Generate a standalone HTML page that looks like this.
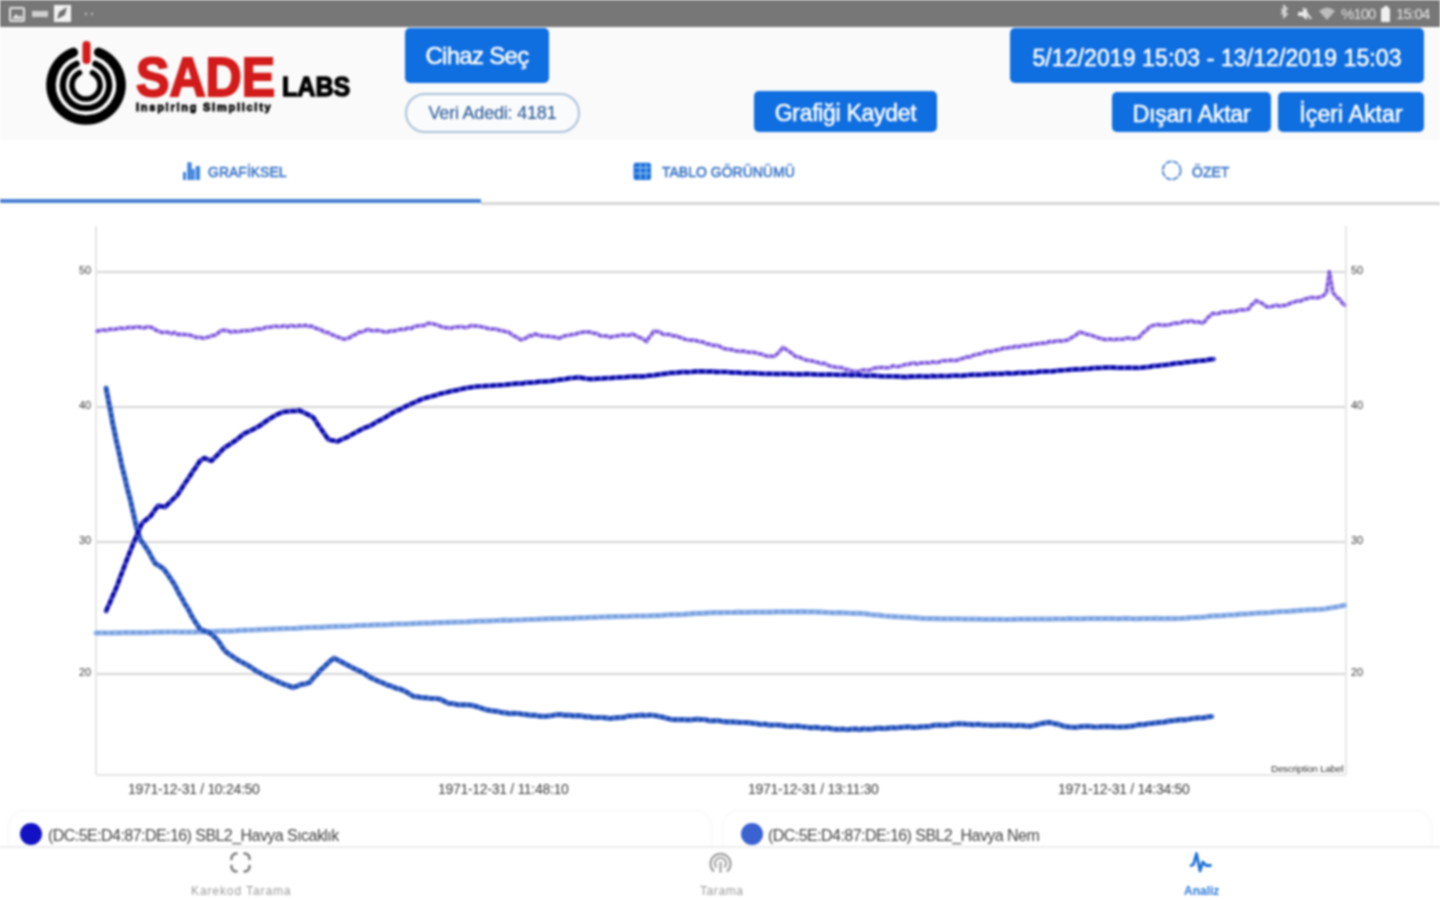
<!DOCTYPE html>
<html><head><meta charset="utf-8">
<style>
*{margin:0;padding:0;box-sizing:border-box}
html,body{width:1440px;height:900px;overflow:hidden;background:#fff;font-family:"Liberation Sans",sans-serif}
body{filter:blur(0.8px)}
.abs{position:absolute}
#status{left:0;top:0;width:1440px;height:27px;background:#777777}
#header{left:0;top:27px;width:1440px;height:113px;background:#fafafa}
.btn{position:absolute;background:#0f6ee0;border-radius:5px;color:#fff;text-align:center;white-space:nowrap;-webkit-text-stroke:0.5px #fff}
.pill{position:absolute;border:2px solid #aac0d8;border-radius:20px;color:#2d5c98;text-align:center;background:#fafbfc;white-space:nowrap;-webkit-text-stroke:0.15px #2d5c98;letter-spacing:-0.2px}
#tabs{left:0;top:140px;width:1440px;height:66px;background:#fff}
.tab{position:absolute;color:#3b76c6;font-size:14px;white-space:nowrap;-webkit-text-stroke:0.55px #3b76c6}
.lbl{position:absolute;color:#3a3a3a;font-size:11px;white-space:nowrap;line-height:13px}
.xl{position:absolute;color:#3a3a3a;font-size:14px;white-space:nowrap;letter-spacing:-0.3px;line-height:16px}
.leg{position:absolute;color:#454545;font-size:16px;white-space:nowrap;letter-spacing:-0.55px;line-height:18px}
.nav{position:absolute;color:#9a9a9a;font-size:12px;white-space:nowrap}
</style></head>
<body>
<div id="status" class="abs"></div>
<svg class="abs" style="left:0;top:0" width="100" height="26" viewBox="0 0 100 26">
  <g fill="none" stroke="#e4e4e4" stroke-width="2">
    <rect x="10" y="8" width="14" height="13" rx="1"/>
  </g>
  <path d="M12 19l4-5 3 3 2-2 2 4z" fill="#e4e4e4"/>
  <rect x="32" y="11" width="16" height="6" fill="#cfcfcf"/>
  <rect x="54" y="5" width="17" height="17" fill="#f2f2f2"/>
  <path d="M57 19l2-7 8-5-2 8z" fill="#707070"/>
  <circle cx="86" cy="14" r="1.2" fill="#bdbdbd"/><circle cx="92" cy="14" r="1.2" fill="#bdbdbd"/>
</svg>
<svg class="abs" style="left:1270px;top:0" width="170" height="26" viewBox="1270 0 170 26">
  <path d="M1281 9l6 5-3 3V6l3 3-6 5" fill="none" stroke="#e0e0e0" stroke-width="1.6"/>
  <path d="M1298 12h4l5-4v12l-5-4h-4z" fill="#e8e8e8"/>
  <path d="M1303 8l8 11" stroke="#e8e8e8" stroke-width="2"/>
  <path d="M1319 11 Q1327 4 1335 11 L1327 20 Z" fill="#bdbdbd"/>
</svg>
<div class="abs" style="left:1341px;top:5px;font-size:15px;color:#e2e2e2;letter-spacing:-1px;line-height:18px">%100</div>
<svg class="abs" style="left:1381px;top:6px" width="10" height="16" viewBox="0 0 10 16"><rect x="3" y="0" width="4" height="2" fill="#f0f0f0"/><rect x="0" y="2" width="9" height="14" rx="1" fill="#f0f0f0"/></svg>
<div class="abs" style="left:1396px;top:5px;font-size:15px;color:#e8e8e8;letter-spacing:-0.8px;line-height:18px">15:04</div>
<div id="header" class="abs"></div>
<div id="tabs" class="abs"></div>

<!-- logo -->
<svg class="abs" style="left:0;top:26px" width="130" height="114" viewBox="0 26 130 114">
  <g fill="none" stroke="#000" stroke-linecap="round">
    <path d="M 73.3 52.4 A 35 35 0 1 0 98.7 52.4" stroke-width="9.6"/>
    <path d="M 76.6 63.8 A 23.2 23.2 0 1 0 95.4 63.8" stroke-width="6.2"/>
    <path d="M 79.5 72.7 A 14 14 0 1 0 92.5 72.7" stroke-width="5.5"/>
  </g>
  <rect x="82.5" y="41" width="8" height="23" rx="4" fill="#d41c1c"/>
</svg>
<div class="abs" style="left:136px;top:44px;font-size:55px;font-weight:bold;color:#d21b1b;-webkit-text-stroke:2px #d21b1b;transform:scaleX(0.91);transform-origin:0 0;line-height:66px">SADE</div>
<div class="abs" style="left:282px;top:71px;font-size:27px;font-weight:bold;color:#000;-webkit-text-stroke:1.4px #000;transform:scaleX(0.93);transform-origin:0 0;line-height:32px">LABS</div>
<div class="abs" style="left:136px;top:101px;font-size:11px;font-weight:bold;color:#111;-webkit-text-stroke:0.8px #000;letter-spacing:1.75px;line-height:13px">Inspiring Simplicity</div>

<div class="btn" style="left:405px;top:28px;width:144px;height:55px;font-size:24px;line-height:56px;letter-spacing:-0.7px">Cihaz Seç</div>
<div class="pill" style="left:405px;top:93px;width:175px;height:40px;font-size:18px;line-height:36px">Veri Adedi: 4181</div>
<div class="btn" style="left:754px;top:91px;width:183px;height:41px;font-size:23px;line-height:44px;letter-spacing:-0.3px">Grafiği Kaydet</div>
<div class="btn" style="left:1010px;top:28px;width:414px;height:55px;font-size:23px;line-height:61px;letter-spacing:0.1px">5/12/2019 15:03 - 13/12/2019 15:03</div>
<div class="btn" style="left:1112px;top:92px;width:159px;height:40px;font-size:23px;line-height:44px;letter-spacing:-0.2px">Dışarı Aktar</div>
<div class="btn" style="left:1278px;top:92px;width:146px;height:40px;font-size:23px;line-height:44px;letter-spacing:0.1px">İçeri Aktar</div>

<!-- tabs -->
<div class="abs" style="left:0;top:199px;width:481px;height:4px;background:#4a80d0"></div>
<div class="abs" style="left:481px;top:202px;width:959px;height:3px;background:#d6d6d6"></div>
<svg class="abs" style="left:180px;top:160px" width="24" height="24" viewBox="180 160 24 24" fill="#3f84dc">
  <rect x="183" y="172" width="3" height="8"/><rect x="187.3" y="162.3" width="4.4" height="17.7"/><rect x="191.7" y="169" width="3" height="11"/><rect x="195.7" y="166" width="4.3" height="14"/>
</svg>
<div class="tab" style="left:208px;top:164px">GRAFİKSEL</div>
<svg class="abs" style="left:630px;top:160px" width="24" height="24" viewBox="630 160 24 24">
  <rect x="633.6" y="162.7" width="17.4" height="17.3" rx="2" fill="#1c6fd9"/>
  <g stroke="#8ec4f4" stroke-width="1.2"><line x1="640.3" y1="164" x2="640.3" y2="179"/><line x1="646" y1="164" x2="646" y2="179"/><line x1="635" y1="167.6" x2="650" y2="167.6"/><line x1="635" y1="173.4" x2="650" y2="173.4"/></g>
</svg>
<div class="tab" style="left:662px;top:164px">TABLO GÖRÜNÜMÜ</div>
<svg class="abs" style="left:1158px;top:157px" width="28" height="28" viewBox="1158 157 28 28">
  <circle cx="1171.7" cy="170.4" r="9" fill="none" stroke="#4a82cc" stroke-width="1.8" stroke-dasharray="6 1.2"/>
</svg>
<div class="tab" style="left:1192px;top:164px">ÖZET</div>

<!-- chart -->
<svg class="abs" style="left:0;top:0" width="1440" height="900">
  <g stroke="#d4d4d4" stroke-width="2">
    <line x1="96" y1="272" x2="1346" y2="272"/>
    <line x1="96" y1="407" x2="1346" y2="407"/>
    <line x1="96" y1="542" x2="1346" y2="542"/>
    <line x1="96" y1="674" x2="1346" y2="674"/>
  </g>
  <g stroke="#e6e6e6" stroke-width="2">
    <line x1="96" y1="226" x2="96" y2="775"/>
    <line x1="1346" y1="226" x2="1346" y2="775"/>
    <line x1="96" y1="775" x2="1346" y2="775"/>
  </g>
  <defs>
    <polyline id="lb" points="96.0,633.0 102.0,632.8 108.0,633.0 114.0,632.9 120.0,632.9 126.0,632.5 132.0,632.6 138.0,632.6 144.0,632.6 150.0,632.5 156.0,632.1 162.0,632.2 168.0,632.0 174.0,632.0 180.0,632.2 186.0,632.0 192.0,632.1 198.0,631.8 204.0,631.9 210.0,631.7 216.2,631.4 222.3,631.1 228.5,631.1 234.6,630.9 240.8,630.3 246.9,630.2 253.1,630.0 259.2,629.6 265.4,629.4 271.5,629.1 277.7,628.8 283.8,628.6 290.0,628.5 296.2,628.3 302.3,627.8 308.5,627.5 314.6,627.4 320.8,627.3 326.9,626.8 333.1,626.6 339.2,626.3 345.4,626.3 351.5,626.0 357.7,625.5 363.8,625.3 370.0,625.2 376.1,624.9 382.1,624.8 388.2,624.6 394.3,624.2 400.4,624.0 406.4,624.0 412.5,623.6 418.6,623.4 424.7,623.1 430.8,623.2 436.8,622.7 442.9,622.6 449.0,622.3 455.1,622.1 461.1,622.0 467.2,621.9 473.3,621.4 479.4,621.1 485.4,621.1 491.5,620.8 497.6,620.5 503.7,620.2 509.9,620.3 516.0,620.0 522.1,619.9 528.2,619.5 534.3,619.5 540.5,619.1 546.6,618.8 552.7,618.6 558.8,618.6 564.9,618.4 571.0,618.3 577.2,617.8 583.3,617.8 589.4,617.5 595.5,617.3 601.6,617.0 607.8,616.8 613.9,616.7 620.0,616.5 626.7,616.5 633.4,616.0 640.0,616.0 646.7,616.0 653.4,615.7 659.5,615.6 665.6,615.0 671.6,614.6 677.7,614.6 683.8,614.3 689.9,613.8 696.0,613.4 702.0,613.4 708.1,612.9 714.2,612.6 720.4,612.7 726.6,612.5 732.8,612.5 739.0,612.2 745.2,612.4 751.4,612.1 757.6,612.1 763.8,612.2 770.0,612.2 776.2,611.8 782.4,611.8 788.6,611.8 794.8,611.8 801.0,611.7 807.6,611.8 814.1,611.9 820.7,612.2 827.2,612.5 833.8,612.8 840.3,612.6 846.9,613.0 853.4,613.3 860.0,613.4 866.2,613.9 872.4,614.8 878.5,615.2 884.7,616.0 890.9,616.4 897.1,616.8 903.3,617.2 909.5,617.4 915.7,617.8 921.9,618.3 928.1,618.6 934.1,618.6 940.1,618.8 946.1,618.8 952.2,618.9 958.2,618.8 964.2,619.1 970.2,619.1 976.2,619.0 982.2,619.3 988.3,619.4 994.3,619.3 1000.3,619.3 1006.3,619.5 1012.5,619.4 1018.8,619.2 1025.0,619.2 1031.3,619.2 1037.5,619.0 1043.8,619.1 1050.0,619.1 1056.3,618.8 1062.5,619.0 1068.8,618.7 1075.0,618.9 1081.3,618.9 1087.5,618.7 1093.8,618.5 1100.0,618.6 1106.2,618.6 1112.4,618.5 1118.5,618.8 1124.7,618.4 1130.9,618.7 1137.1,618.8 1143.2,618.6 1149.4,618.7 1155.6,618.4 1161.8,618.7 1167.9,618.5 1174.1,618.7 1180.3,618.5 1186.3,618.2 1192.3,617.5 1198.3,617.4 1204.4,617.0 1210.4,616.2 1216.4,615.9 1222.4,615.7 1228.4,615.0 1234.5,614.9 1240.5,614.2 1246.5,614.0 1252.5,613.5 1258.5,613.0 1264.5,612.8 1270.5,612.5 1276.6,611.9 1282.6,611.5 1288.6,611.3 1294.6,610.8 1300.6,610.3 1306.7,610.0 1312.7,609.6 1318.7,609.5 1324.7,609.0 1331.3,607.8 1338.0,606.7 1344.6,605.3"/>
    <polyline id="pu" points="97.0,331.2 100.2,330.5 103.5,329.9 106.7,330.5 110.0,329.1 113.2,329.6 116.5,329.0 119.7,328.1 123.0,328.5 126.2,328.2 129.2,327.2 132.2,327.8 135.3,327.1 138.3,327.0 141.3,327.4 144.3,328.0 147.4,326.6 150.4,327.2 153.1,328.0 155.8,330.1 158.5,331.2 161.7,332.4 164.8,332.2 168.0,332.3 171.1,333.8 174.3,332.5 177.4,334.4 180.6,334.2 183.8,334.4 186.9,334.7 190.1,335.2 193.3,336.1 196.5,337.6 199.6,337.1 202.8,338.2 205.8,337.6 208.8,337.0 211.8,335.7 214.8,335.2 217.5,333.6 220.2,331.1 222.9,330.2 226.9,330.4 231.0,332.2 234.3,331.3 237.7,331.9 241.1,331.1 244.4,330.5 247.8,330.7 251.1,330.2 254.1,329.6 257.1,328.8 260.2,329.2 263.2,328.5 266.2,327.2 269.2,327.3 272.3,326.7 275.3,326.1 278.3,326.8 281.3,326.5 284.4,325.7 287.4,327.0 290.4,325.4 293.4,326.0 296.4,326.6 299.4,325.5 302.4,326.1 305.5,325.3 308.5,326.4 311.5,326.1 314.9,327.9 318.2,329.0 321.6,330.2 324.8,332.2 327.9,332.4 331.1,334.4 334.2,335.5 337.4,336.8 340.5,337.8 343.7,339.2 346.7,338.6 349.8,337.5 352.8,335.4 355.8,334.5 358.8,332.2 361.8,332.1 364.9,330.7 367.9,329.2 371.1,330.6 374.4,330.7 377.6,330.3 380.9,330.9 384.1,331.9 387.4,332.1 390.9,330.7 394.3,331.0 397.8,329.9 401.2,329.3 404.7,329.5 408.0,327.9 411.2,328.5 414.5,326.5 417.8,326.0 421.0,325.5 424.3,325.6 427.5,323.4 430.8,323.4 434.3,324.2 437.7,325.2 441.2,326.7 444.6,327.5 448.1,327.8 451.4,328.2 454.6,327.0 457.9,327.0 461.1,326.6 464.4,327.4 467.7,327.3 470.9,325.6 474.2,326.0 477.4,326.0 480.5,326.6 483.7,327.2 486.8,328.2 490.0,328.9 493.1,328.9 496.3,329.0 499.4,330.3 502.6,330.8 505.7,331.7 508.9,332.1 511.9,334.9 515.0,336.3 518.0,338.0 521.0,339.9 523.8,338.9 526.6,337.8 529.3,335.5 532.1,335.8 534.9,333.9 538.1,335.0 541.4,335.8 544.6,336.3 547.8,336.2 551.0,336.8 554.3,336.9 557.5,338.2 560.5,337.8 563.4,336.2 566.4,335.6 569.3,335.2 572.2,334.5 575.2,334.3 578.1,333.1 581.1,332.4 584.0,332.1 587.0,332.1 590.3,332.1 593.6,333.3 596.9,333.5 600.1,335.7 603.4,336.0 606.7,335.9 610.0,337.3 613.2,336.4 616.5,336.1 619.7,335.6 622.9,334.7 626.1,335.5 629.4,335.3 632.6,333.9 635.4,335.4 638.2,337.0 640.9,337.8 643.7,339.4 646.5,341.7 648.2,338.8 650.0,336.1 651.7,334.5 653.4,331.3 656.6,331.4 659.9,331.9 663.1,334.4 666.4,334.4 669.6,334.4 672.9,335.9 676.1,335.7 679.4,337.3 682.3,338.0 685.3,339.4 688.2,339.9 691.2,340.2 694.1,340.1 697.1,340.9 700.0,341.8 703.1,342.0 706.3,343.8 709.5,344.2 712.6,345.4 715.8,345.3 718.9,345.9 722.0,347.8 725.2,348.8 728.4,349.4 731.5,349.5 734.5,350.6 737.5,351.1 740.5,351.5 743.5,351.0 746.5,352.1 749.5,352.3 752.5,352.2 755.6,352.7 758.6,353.7 761.6,354.1 764.6,355.4 767.6,356.4 770.6,356.0 773.6,356.6 775.9,355.1 778.2,352.9 780.5,350.5 782.8,347.4 785.4,349.0 788.0,350.6 790.5,352.4 793.1,354.2 795.7,356.6 798.9,356.9 802.2,358.5 805.4,359.8 808.6,360.6 811.8,360.8 815.1,361.9 818.3,362.5 821.3,363.8 824.3,363.2 827.4,365.0 830.4,366.2 833.4,366.7 836.5,367.4 839.5,367.6 842.5,367.8 845.5,369.6 848.5,369.5 851.6,371.1 854.6,371.3 857.9,371.7 861.1,370.3 864.4,369.9 867.7,370.5 870.9,369.6 874.2,368.2 877.5,367.8 880.7,367.4 884.0,367.6 887.0,367.9 890.0,367.4 893.0,365.8 896.0,366.7 899.0,366.5 902.0,365.6 905.0,364.6 908.0,364.6 911.0,363.5 914.0,362.9 917.0,364.2 920.0,363.0 923.1,363.0 926.3,362.6 929.4,363.1 932.5,361.9 935.7,362.5 938.8,362.2 941.9,360.8 945.1,360.7 948.2,360.5 951.3,360.2 954.5,360.6 957.6,360.2 960.6,358.9 963.7,358.2 966.7,356.8 969.8,357.3 972.8,355.4 975.9,354.7 978.9,354.0 982.0,353.6 985.0,352.0 988.1,351.3 991.2,351.7 994.3,350.5 997.4,350.0 1000.4,349.5 1003.5,348.1 1006.6,348.3 1009.7,347.3 1012.8,347.4 1015.8,346.1 1018.8,347.0 1021.9,345.5 1024.9,345.6 1027.9,345.6 1030.9,344.8 1034.0,344.0 1037.0,343.9 1040.0,343.4 1043.1,343.1 1046.2,343.2 1049.3,341.6 1052.4,342.0 1055.6,341.1 1058.7,340.7 1061.8,341.2 1064.9,340.4 1068.0,340.0 1070.8,338.1 1073.6,336.5 1076.4,334.8 1079.2,332.1 1082.8,332.9 1086.4,334.2 1090.0,334.9 1092.9,335.8 1095.8,336.8 1098.6,338.0 1101.5,338.5 1104.4,339.5 1107.5,339.4 1110.7,339.1 1113.8,339.8 1116.9,339.2 1120.0,339.3 1123.2,339.3 1126.3,337.9 1129.4,338.2 1132.5,338.7 1135.7,338.4 1138.8,337.6 1141.3,334.6 1143.8,332.2 1146.4,330.5 1148.9,327.5 1151.4,325.9 1154.7,325.1 1158.0,324.5 1161.3,325.3 1164.7,325.2 1168.0,325.1 1171.3,324.1 1174.6,322.9 1177.9,323.3 1181.2,322.6 1184.5,321.1 1187.8,321.8 1191.1,320.5 1194.7,322.2 1198.4,321.8 1202.0,323.2 1204.7,321.5 1207.4,318.1 1210.1,315.8 1212.8,313.3 1215.9,313.9 1219.0,313.4 1222.1,311.9 1225.2,312.1 1228.3,312.0 1231.4,311.5 1234.5,311.5 1238.1,310.3 1241.7,309.8 1245.3,309.9 1248.9,308.8 1251.3,305.2 1253.7,303.4 1256.1,300.6 1258.8,302.1 1261.5,302.9 1264.3,305.0 1267.0,306.9 1270.1,306.7 1273.2,306.2 1276.3,305.0 1279.3,306.2 1282.4,305.5 1285.5,305.4 1288.6,304.2 1291.6,302.6 1294.6,302.0 1297.7,300.7 1300.7,301.1 1303.7,299.3 1306.7,298.8 1309.9,297.6 1313.2,297.6 1316.4,297.9 1319.7,297.2 1322.9,296.1 1326.5,292.5 1327.0,288.6 1327.4,284.9 1327.9,282.9 1328.4,278.8 1328.8,275.5 1329.3,271.7 1329.8,273.9 1330.3,276.8 1330.8,281.0 1331.4,283.5 1331.9,285.8 1332.4,290.3 1332.9,292.5 1335.2,295.3 1337.6,298.1 1339.9,299.3 1342.3,303.2 1344.6,305.1"/>
    <polyline id="mb" points="106.1,388.1 106.9,392.5 107.7,396.4 108.5,400.9 109.3,404.9 110.1,408.9 110.9,413.2 111.7,417.4 112.5,422.4 113.3,426.2 114.2,430.2 115.0,434.0 115.9,438.8 116.8,442.9 117.7,446.4 118.5,450.1 119.4,454.2 120.3,458.2 121.1,462.5 122.0,466.7 123.1,470.6 124.2,475.1 125.3,479.4 126.3,484.1 127.4,488.7 128.5,492.9 129.6,496.9 130.7,501.3 131.6,505.5 132.6,510.0 133.6,514.2 134.5,518.5 135.4,522.5 136.4,527.3 137.9,531.4 139.3,536.4 140.8,540.3 143.2,543.3 145.6,547.0 148.0,550.4 150.4,554.9 152.8,559.4 155.2,563.4 159.6,566.0 163.9,569.2 166.4,572.6 168.9,576.2 171.5,580.0 174.0,583.7 176.2,587.6 178.3,592.1 180.5,596.0 182.7,599.6 184.8,603.9 187.0,607.0 189.2,611.0 191.3,615.4 193.5,619.0 195.7,622.6 197.8,625.6 200.0,629.0 203.9,630.8 207.7,632.0 211.6,634.2 216.9,639.3 219.8,643.2 222.6,647.8 225.5,651.4 229.4,654.3 233.2,656.9 237.1,659.6 241.0,661.7 244.4,663.5 247.9,665.4 251.3,667.5 254.8,670.0 258.2,672.0 262.5,674.3 266.8,676.7 271.1,678.7 275.4,680.6 279.7,682.5 284.0,684.3 288.3,685.7 292.6,687.5 296.9,686.3 301.2,684.4 305.5,683.9 309.8,682.3 313.2,678.0 316.7,674.7 320.1,670.3 323.6,667.4 327.0,664.1 330.4,660.9 333.9,658.2 339.0,660.6 344.2,663.4 348.8,665.8 353.4,668.2 358.0,670.3 362.0,672.2 366.0,674.5 370.0,677.3 374.4,679.3 378.7,681.3 383.0,683.0 387.4,685.1 391.7,686.3 396.0,688.2 400.4,689.1 404.7,691.1 409.0,693.6 413.4,696.4 417.7,696.8 422.1,697.7 426.4,697.8 430.7,698.5 435.1,698.5 439.4,699.0 443.8,700.9 448.1,703.3 452.5,703.5 456.8,704.6 461.1,704.8 465.5,704.8 469.9,705.0 474.2,705.9 478.8,707.3 483.5,708.9 488.1,710.2 492.4,710.8 496.8,711.3 501.1,712.3 505.4,712.8 509.6,713.6 513.9,713.3 518.1,713.5 522.4,714.2 526.6,714.7 530.9,715.3 535.1,715.2 539.4,716.2 543.6,716.3 548.0,716.1 552.3,715.5 556.6,714.7 561.0,714.6 565.1,715.4 569.2,715.1 573.2,715.9 577.3,715.6 581.4,715.9 585.5,716.8 589.6,716.7 593.7,717.7 597.8,717.5 601.8,717.5 605.9,717.9 610.0,718.5 614.5,717.9 619.0,717.6 623.6,717.4 628.1,716.1 632.6,715.9 637.0,715.6 641.3,715.2 645.6,715.7 650.0,715.0 654.2,715.5 658.3,716.3 662.5,717.1 666.6,718.3 670.8,719.3 675.0,719.7 679.1,719.7 683.3,719.6 687.5,719.9 691.7,719.8 695.8,719.2 700.0,719.4 704.4,719.5 708.8,720.6 713.2,720.8 717.6,720.5 722.0,721.3 726.3,721.8 730.6,721.8 734.9,722.1 739.2,722.4 743.5,722.5 747.8,722.7 752.1,723.2 756.4,723.6 760.7,724.5 765.0,724.0 769.3,725.2 773.6,725.0 777.7,725.0 781.8,725.4 785.9,726.1 790.0,726.4 794.0,726.2 798.1,726.1 802.2,726.8 806.3,727.0 810.4,727.8 814.5,727.3 818.6,727.7 822.7,728.5 826.8,727.9 830.8,728.6 834.9,729.2 839.0,729.4 843.1,729.0 847.2,729.7 851.3,729.1 855.4,728.9 859.5,729.6 863.6,728.8 867.6,729.1 871.7,729.1 875.8,728.4 879.9,728.2 884.0,728.7 888.1,728.2 892.2,727.7 896.3,728.0 900.4,727.4 904.4,727.2 908.5,726.8 912.6,727.4 916.7,727.4 920.8,726.8 924.9,726.6 929.0,726.6 933.1,725.4 937.2,725.2 941.2,725.2 945.3,725.3 949.4,725.0 953.5,724.1 957.6,723.9 961.7,723.8 965.8,724.1 969.9,724.3 974.0,724.8 978.0,724.2 982.1,724.9 986.2,725.0 990.3,725.2 994.4,725.3 998.5,725.2 1002.6,725.1 1006.7,725.2 1010.8,725.4 1014.8,725.9 1018.9,725.3 1023.0,725.6 1027.1,726.2 1031.2,726.1 1035.8,724.9 1040.4,723.8 1045.0,722.9 1049.6,722.4 1054.2,723.6 1058.8,724.4 1063.4,726.2 1068.0,726.8 1072.3,727.2 1076.5,727.3 1080.8,726.6 1085.0,726.4 1089.3,726.4 1093.5,726.8 1097.8,727.0 1102.0,726.7 1106.3,726.5 1110.5,726.7 1114.8,726.9 1119.0,727.0 1123.3,726.8 1127.4,726.6 1131.5,726.2 1135.5,725.5 1139.6,724.5 1143.7,724.7 1147.8,723.7 1151.8,723.4 1155.9,722.8 1160.0,722.4 1164.3,722.1 1168.6,721.1 1172.9,720.7 1177.2,720.2 1181.5,719.6 1185.8,719.8 1190.1,719.0 1194.4,718.3 1198.7,717.9 1203.0,718.0 1207.3,717.0 1211.6,716.5"/>
    <polyline id="db" points="106.1,611.1 107.8,607.0 109.5,603.6 111.2,599.5 112.8,595.6 114.5,591.9 116.2,588.0 117.7,584.4 119.1,580.2 120.6,576.2 122.0,572.6 123.5,568.6 124.9,564.9 126.5,560.5 128.2,556.4 129.8,552.2 131.5,548.2 133.1,544.1 134.8,540.0 136.4,536.0 138.3,531.8 140.3,527.2 142.2,523.0 146.6,519.4 150.9,515.8 153.3,512.2 155.7,509.0 158.1,505.7 165.3,507.1 168.2,503.9 171.1,501.2 174.0,498.2 176.9,495.6 179.2,492.3 181.5,488.7 183.8,485.0 186.1,481.7 188.4,478.2 190.7,475.0 193.0,471.0 195.4,468.0 197.7,464.3 200.0,460.9 204.3,458.0 211.6,460.9 214.7,457.7 217.7,454.8 220.8,451.4 223.8,448.3 227.2,446.0 230.7,443.9 234.1,441.5 237.5,439.1 241.0,436.1 244.4,433.5 249.0,431.4 253.6,429.1 258.2,426.7 261.6,424.5 265.0,422.0 268.5,419.6 271.9,417.4 277.1,414.5 282.3,412.2 286.6,411.6 290.9,411.1 295.2,411.1 299.5,410.5 304.1,412.7 308.6,414.9 313.2,417.4 315.5,420.6 317.8,424.5 320.1,427.7 323.0,431.9 325.8,435.8 328.7,439.7 333.0,440.5 337.3,441.5 342.5,439.1 347.6,437.0 352.2,434.3 356.8,431.9 361.4,429.4 365.7,427.4 370.0,425.9 373.7,423.8 377.4,421.5 381.1,419.8 384.9,417.7 388.6,415.4 392.3,413.1 396.0,411.1 399.7,409.7 403.5,407.5 407.2,405.8 410.9,403.9 414.6,402.4 418.4,400.7 422.1,399.0 426.4,397.8 430.8,396.5 435.1,395.5 439.4,394.0 443.8,393.0 448.1,392.0 452.5,390.9 456.8,390.2 461.1,389.1 465.5,388.2 469.9,387.5 474.2,386.8 478.5,386.3 482.9,386.2 487.2,385.9 491.5,385.7 495.9,385.3 500.2,385.1 504.6,384.8 508.9,384.3 513.2,383.9 517.6,383.5 521.9,383.6 526.2,382.7 530.6,382.7 534.9,382.4 539.3,381.7 543.6,381.6 547.9,381.3 552.3,380.8 556.6,380.1 561.0,379.6 565.3,379.1 569.6,378.2 574.0,377.9 578.3,377.3 583.5,378.2 588.8,379.0 593.3,379.0 597.7,378.7 602.2,378.5 606.6,378.1 611.1,378.0 615.5,377.7 620.0,377.3 624.1,377.3 628.2,376.8 632.4,376.6 636.5,376.5 640.6,376.5 644.7,376.4 649.1,375.6 653.4,375.4 657.8,374.7 662.1,374.1 666.4,373.6 670.8,372.9 675.0,372.8 679.1,372.4 683.3,371.9 687.5,372.2 691.7,371.9 695.8,371.5 700.0,371.3 704.1,371.5 708.2,371.7 712.3,371.5 716.4,372.0 720.4,371.9 724.5,371.9 728.6,372.2 732.7,372.6 736.8,372.4 740.9,372.9 745.0,373.2 749.1,373.0 753.2,373.1 757.2,373.3 761.3,373.6 765.4,373.8 769.5,373.8 773.6,373.9 777.6,374.0 781.7,373.8 785.8,373.9 789.8,374.0 793.9,374.3 797.9,374.1 802.0,374.3 806.0,374.0 810.1,374.1 814.1,374.3 818.1,374.6 822.2,374.7 826.2,374.7 830.3,374.5 834.4,374.7 838.4,374.8 842.5,374.8 846.5,374.7 850.6,375.2 854.6,375.0 858.9,375.0 863.3,375.6 867.6,375.8 872.0,375.4 876.3,375.8 880.7,376.2 885.0,376.4 889.4,376.3 893.7,376.3 898.1,376.5 902.4,376.8 906.6,377.0 910.9,376.5 915.1,376.6 919.4,376.2 923.6,376.4 927.9,376.6 932.1,376.0 936.4,376.3 940.6,376.0 944.9,376.2 949.1,376.0 953.4,375.6 957.6,375.7 961.7,375.8 965.8,375.3 969.9,374.9 974.0,374.7 978.0,374.8 982.1,374.6 986.2,374.3 990.3,374.0 994.4,374.0 998.5,373.8 1002.6,373.9 1006.7,373.2 1010.8,373.5 1014.8,373.3 1018.9,372.7 1023.0,373.0 1027.1,372.7 1031.2,372.4 1035.3,372.4 1039.4,371.7 1043.5,371.5 1047.6,371.3 1051.7,371.4 1055.8,370.9 1059.9,370.4 1064.0,370.2 1068.1,369.9 1072.1,369.5 1076.2,369.2 1080.3,369.4 1084.4,368.8 1088.5,368.9 1092.6,368.2 1096.7,368.0 1100.8,367.9 1104.9,367.6 1109.0,367.4 1113.1,367.5 1117.2,367.9 1121.3,367.8 1125.3,367.8 1129.4,367.7 1133.5,367.8 1137.6,367.9 1141.7,367.6 1145.7,367.2 1149.7,366.8 1153.7,365.9 1157.7,365.9 1161.7,365.2 1165.7,364.9 1169.7,364.4 1173.7,363.7 1177.7,363.1 1181.7,363.1 1185.7,362.2 1189.7,361.9 1193.7,361.4 1197.7,360.9 1201.7,360.7 1205.7,360.3 1209.7,359.4 1213.7,359.1"/>
  </defs>
  <g fill="none" stroke-linejoin="round" stroke-linecap="round">
    <use href="#lb" stroke="#93b5ea" stroke-width="5.2"/>
    <use href="#lb" stroke="#7aa0de" stroke-width="3.4" stroke-dasharray="4 3" stroke-linecap="butt"/>
    <use href="#pu" stroke="#a48ae8" stroke-width="4"/>
    <use href="#pu" stroke="#7a52d8" stroke-width="2.8" stroke-dasharray="3 3" stroke-linecap="butt"/>
    <use href="#mb" stroke="#4a70cc" stroke-width="5.2"/>
    <use href="#mb" stroke="#2250b4" stroke-width="4" stroke-dasharray="4 2.5" stroke-linecap="butt"/>
    <use href="#db" stroke="#4646cc" stroke-width="4.8"/>
    <use href="#db" stroke="#0c0ca6" stroke-width="4" stroke-dasharray="5 2.5" stroke-linecap="butt"/>
  </g>
</svg>
<div class="lbl" style="left:79px;top:264px">50</div>
<div class="lbl" style="left:79px;top:399px">40</div>
<div class="lbl" style="left:79px;top:534px">30</div>
<div class="lbl" style="left:79px;top:666px">20</div>
<div class="lbl" style="left:1351px;top:264px">50</div>
<div class="lbl" style="left:1351px;top:399px">40</div>
<div class="lbl" style="left:1351px;top:534px">30</div>
<div class="lbl" style="left:1351px;top:666px">20</div>
<div class="abs" style="left:1271px;top:763px;font-size:9.8px;letter-spacing:-0.2px;color:#333;white-space:nowrap">Description Label</div>

<div class="xl" style="left:128px;top:781px">1971-12-31 / 10:24:50</div>
<div class="xl" style="left:438px;top:781px">1971-12-31 / 11:48:10</div>
<div class="xl" style="left:748px;top:781px">1971-12-31 / 13:11:30</div>
<div class="xl" style="left:1058px;top:781px">1971-12-31 / 14:34:50</div>

<!-- legend -->
<div class="abs" style="left:8px;top:810px;width:704px;height:60px;border:1px solid #f5f5f5;border-radius:16px;background:#fff"></div>
<div class="abs" style="left:722px;top:810px;width:710px;height:60px;border:1px solid #f5f5f5;border-radius:16px;background:#fff"></div>
<div class="abs" style="left:20px;top:823px;width:22px;height:22px;border-radius:50%;background:#1212c4"></div>
<div class="leg" style="left:48px;top:827px">(DC:5E:D4:87:DE:16) SBL2_Havya Sıcaklık</div>
<div class="abs" style="left:741px;top:823px;width:22px;height:22px;border-radius:50%;background:#3a62d0"></div>
<div class="leg" style="left:768px;top:827px">(DC:5E:D4:87:DE:16) SBL2_Havya Nem</div>

<!-- bottom nav -->
<div class="abs" style="left:0;top:846px;width:1440px;height:54px;background:#fff;border-top:2px solid #ececec"></div>
<svg class="abs" style="left:220px;top:846px" width="40" height="32" viewBox="220 846 40 32" fill="none" stroke="#7c7c7c" stroke-width="2.6" stroke-linecap="round">
  <path d="M231.5 859V858.5A5 5 0 0 1 236.5 853.5"/><path d="M244.5 853.5A5 5 0 0 1 249.5 858.5V859"/>
  <path d="M231.5 866V866.5A5 5 0 0 0 236.5 871.5"/><path d="M249.5 866V866.5A5 5 0 0 1 244.5 871.5"/>
</svg>
<div class="nav" style="left:191px;top:884px;letter-spacing:0.9px">Karekod Tarama</div>
<svg class="abs" style="left:700px;top:846px" width="40" height="32" viewBox="700 846 40 32" fill="none" stroke="#a0a0a0" stroke-width="2.2" stroke-linecap="round">
  <path d="M713.5 871A10 10 0 1 1 727.5 871"/><path d="M716 866.5A5.5 5.5 0 1 1 725 866.5"/><path d="M720.5 862.5V872"/>
</svg>
<div class="nav" style="left:700px;top:884px;letter-spacing:0.6px">Tarama</div>
<svg class="abs" style="left:1184px;top:846px" width="34" height="32" viewBox="1184 846 34 32" fill="none" stroke="#1e70d6" stroke-width="2.8" stroke-linecap="round" stroke-linejoin="round">
  <path d="M1191 865.5L1193.5 864.5L1196.5 853.5L1200 871L1202.8 862L1206 865.5L1210.5 865.5"/>
</svg>
<div class="nav" style="left:1184px;top:884px;color:#2a7ad8;font-weight:bold">Analiz</div>

</body></html>
